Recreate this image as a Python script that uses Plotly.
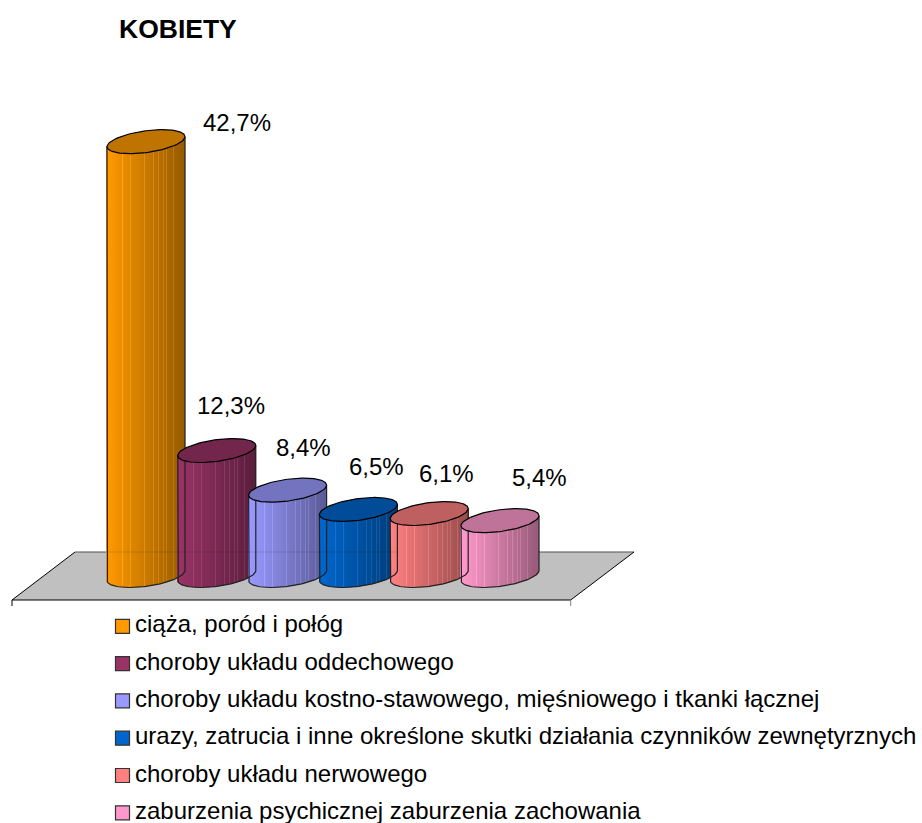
import numpy as np
import plotly.graph_objects as go

TITLE = "KOBIETY"
categories = [
    "ciąża, poród i połóg",
    "choroby układu oddechowego",
    "choroby układu kostno-stawowego, mięśniowego i tkanki łącznej",
    "urazy, zatrucia i inne określone skutki działania czynników zewnętyrznych",
    "choroby układu nerwowego",
    "zaburzenia psychicznej zaburzenia zachowania",
]
values = [42.7, 12.3, 8.4, 6.5, 6.1, 5.4]
colors = [(255, 153, 0), (153, 51, 102), (153, 153, 255), (0, 102, 204), (255, 128, 128), (255, 153, 204)]
label_shift = [(91, 19.5), (14.5, 45), (15.5, 43), (18, 42.5), (17, 40), (39, 43)]

W, H = 922, 823
X0, DX = 146.0, 70.8      # pixel of first category, pixels per category
Y0, DY = 575.5, 10.16     # pixel of 0 %, pixels per 1 %
A = 39.0 / DX             # half width of cylinder (category units)
B = 10.9 / DY             # ellipse half height (% units)
S = 5.0 / DY              # ellipse tilt (% units)
STRIPES = 78
HAIRLINES = {16, 24, 38, 47, 52, 57, 60, 67}
ROW0, ROWH = 626.3, 37.3  # pixel of first legend row, pixels per row


def px_x(p):
    return (p - X0) / DX


def px_y(p):
    return (Y0 - p) / DY


def rgb(c, f=1.0, add=0):
    return "rgb(%d,%d,%d)" % tuple(min(255, int(round(v * f + add))) for v in c)


fig = go.Figure()

# cylinders, each drawn from its value through the axes
for i, (v, c) in enumerate(zip(values, colors)):
    u = (np.arange(STRIPES) + 0.5) / STRIPES * 2 - 1
    base = S * u - B * np.sqrt(1 - u ** 2)
    top = v + S * u
    cols = []
    for k in range(STRIPES):
        f = 1 - 0.4 * (k // 3) / ((STRIPES - 1) // 3)
        cols.append(rgb(c, f, 20 if k in HAIRLINES else 0))
    fig.add_trace(go.Bar(
        x=i + u * A, y=top - base, base=base, width=2 * A / STRIPES * 1.25,
        marker=dict(color=cols, line=dict(width=0)), hoverinfo="skip",
    ))
    t = np.linspace(0, 2 * np.pi, 121)
    # silhouette: front half of the bottom ellipse and the two sides
    tb = np.linspace(np.pi, 2 * np.pi, 61)
    sx = i + A * np.cos(tb)
    sy = S * np.cos(tb) + B * np.sin(tb)
    fig.add_trace(go.Scatter(
        x=np.r_[i - A, sx, i + A], y=np.r_[v - S, sy, v + S],
        mode="lines", line=dict(color="#222222", width=1.2), hoverinfo="skip",
    ))
    fig.add_trace(go.Scatter(
        x=i + A * np.cos(t), y=v + S * np.cos(t) + B * np.sin(t),
        mode="lines", fill="toself", fillcolor=rgb(c, 0.75),
        line=dict(color="#000000", width=1.2), hoverinfo="skip",
    ))

# legend drawn on its own axes: one row per category
rows = list(range(len(categories)))
fig.add_trace(go.Scatter(
    x=[0] * len(categories), y=rows,
    xaxis="x2", yaxis="y2", mode="markers",
    marker=dict(symbol="square", size=14, color=[rgb(c) for c in colors],
                line=dict(color="#333333", width=1.2)),
    hoverinfo="skip", cliponaxis=False,
))
fig.add_trace(go.Scatter(
    x=[12.5] * len(categories), y=rows,
    xaxis="x2", yaxis="y2", mode="text",
    text=categories, textposition="middle right",
    textfont=dict(family="Liberation Sans", size=24, color="#000000"),
    hoverinfo="skip", cliponaxis=False,
))

annotations = []
for i, (v, (sx, sy)) in enumerate(zip(values, label_shift)):
    annotations.append(dict(
        x=i, y=v, xref="x", yref="y", text=f"{v:.1f}".replace(".", ",") + "%",
        showarrow=False, xshift=sx, yshift=sy, xanchor="center", yanchor="middle",
        font=dict(family="Liberation Sans", size=24, color="#000000"),
    ))

fx = [12, 75, 634, 570.7]
fy = [600, 552, 552, 600]
floor = "M " + " L ".join(f"{px_x(a):.4f} {px_y(b):.4f}" for a, b in zip(fx, fy)) + " Z"
shapes = [
    dict(type="path", path=floor, xref="x", yref="y", layer="below",
         fillcolor="#C0C0C0", line=dict(width=0)),
    dict(type="line", x0=px_x(75), x1=px_x(634), y0=px_y(552), y1=px_y(552), xref="x", yref="y",
         layer="below", line=dict(color="#555555", width=1)),
    dict(type="line", x0=px_x(75), x1=px_x(12), y0=px_y(552), y1=px_y(600), xref="x", yref="y",
         layer="below", line=dict(color="#000000", width=1)),
    dict(type="line", x0=px_x(634), x1=px_x(570.7), y0=px_y(552), y1=px_y(600), xref="x", yref="y",
         layer="below", line=dict(color="#000000", width=1)),
    dict(type="line", x0=px_x(12), x1=px_x(570.7), y0=px_y(600), y1=px_y(600), xref="x", yref="y",
         layer="below", line=dict(color="#000000", width=1.2)),
    dict(type="line", x0=px_x(12), x1=px_x(12), y0=px_y(600), y1=px_y(606), xref="x", yref="y",
         layer="below", line=dict(color="#000000", width=1)),
    dict(type="line", x0=px_x(570.7), x1=px_x(570.7), y0=px_y(600), y1=px_y(606), xref="x", yref="y",
         layer="below", line=dict(color="#808080", width=1)),
    dict(type="line", x0=px_x(107), x1=px_x(397), y0=px_y(552), y1=px_y(552), xref="x", yref="y",
         layer="above", opacity=0.12, line=dict(color="#000000", width=1)),
]

hidden = dict(visible=False, fixedrange=True)
fig.update_layout(
    width=W, height=H, margin=dict(l=0, r=0, t=0, b=0),
    paper_bgcolor="white", plot_bgcolor="white", showlegend=False, barmode="overlay",
    title=dict(text=TITLE, x=119 / W, xanchor="left", xref="paper", y=1 - 29 / H, yanchor="middle",
               yref="paper", font=dict(family="Liberation Sans", size=26.5, color="#000000", weight="bold")),
    xaxis=dict(range=[px_x(0), px_x(W)], **hidden),
    yaxis=dict(range=[px_y(H), px_y(0)], **hidden),
    xaxis2=dict(range=[-122.5, W - 122.5], overlaying="x", **hidden),
    yaxis2=dict(range=[(H - ROW0) / ROWH, -ROW0 / ROWH], overlaying="y", **hidden),
    annotations=annotations, shapes=shapes,
)
fig.write_html("out.html", config=dict(displayModeBar=False),
               post_script="document.body.style.margin='0';document.body.style.overflow='hidden';")
